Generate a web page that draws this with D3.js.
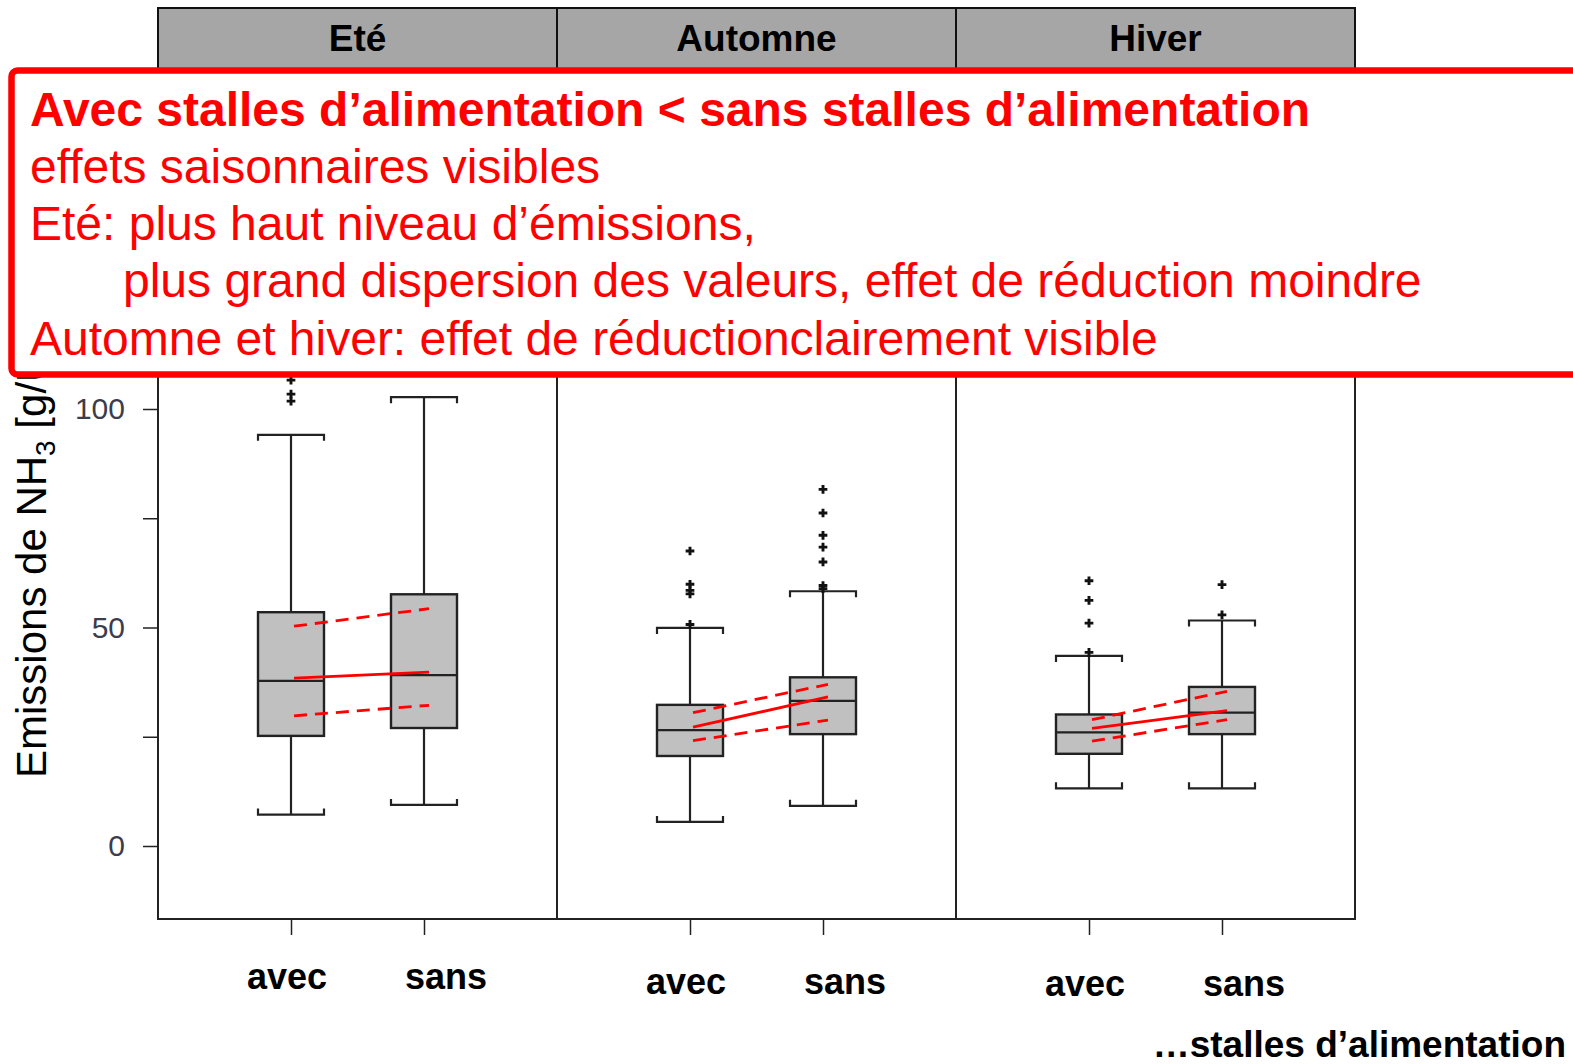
<!DOCTYPE html>
<html>
<head>
<meta charset="utf-8">
<script src="https://cdn.jsdelivr.net/npm/d3@7"></script>
<style>
  body { margin: 0; background: #fff; }
  svg { display: block; font-family: 'Liberation Sans', Arial, sans-serif; }
</style>
</head>
<body>
<script>
// Data
const seasons = ['Eté', 'Automne', 'Hiver'];
const groups = ['avec', 'sans'];

// box stats per group [avec, sans]: [lower whisker, q1, median, q3, upper whisker]
const eteStats = [[7.2, 25.2, 37.8, 53.5, 94.1], [9.4, 27.0, 39.1, 57.6, 102.7]];
const automneStats = [[5.5, 20.6, 26.5, 32.3, 49.9], [9.2, 25.6, 33.2, 38.6, 58.3]];
const hiverStats = [[13.2, 21.1, 26.0, 30.1, 43.5], [13.2, 25.6, 30.5, 36.4, 51.6]];

// outliers per group [avec, sans]
const eteOutliers = [[101.8, 103.4, 106.6], []];
const automneOutliers = [[50.7, 57.7, 58.5, 59.9, 67.5], [58.9, 59.6, 65.0, 68.4, 71.1, 76.2, 81.6]];
const hiverOutliers = [[44.3, 51.0, 56.2, 60.7], [52.9, 59.8]];

// model estimate (red) per season: [avec, sans]
const estimate = [[38.4, 39.8], [27.2, 34.1], [26.9, 31.0]];
const estimateLow = [[29.8, 32.2], [24.1, 28.8], [24.0, 28.9]];
const estimateHigh = [[50.3, 54.3], [30.5, 37.0], [28.9, 35.4]];

const yTicks = [0, 25, 50, 75, 100];
const yTickLabels = ['0', '', '50', '', '100'];

const notes = [
  'Avec stalles d’alimentation < sans stalles d’alimentation',
  'effets saisonnaires visibles',
  'Eté: plus haut niveau d’émissions,',
  'plus grand dispersion des valeurs, effet de réduction moindre',
  'Automne et hiver: effet de réductionclairement visible'
];

const stats = [eteStats, automneStats, hiverStats];
const outliers = [eteOutliers, automneOutliers, hiverOutliers];

// Layout
const width = 1573, height = 1064;
const plotLeft = 158, plotRight = 1355, plotTop = 70, plotBottom = 919;
const boxW = 66, capTick = 6;

const svg = d3.select('body').append('svg')
  .attr('width', width)
  .attr('height', height);

// Scales
const y = d3.scaleLinear().domain([0, 100]).range([846, 409]);
const panel = d3.scaleBand().domain(seasons).range([plotLeft, plotRight]);
const xIn = d3.scalePoint().domain(groups).range([0, panel.bandwidth()]).padding(1);

// Panels frame
svg.append('g')
  .selectAll('rect')
  .data(seasons)
  .enter()
  .append('rect')
  .attr('x', d => panel(d))
  .attr('y', plotTop)
  .attr('width', panel.bandwidth())
  .attr('height', plotBottom - plotTop)
  .attr('fill', 'none')
  .attr('stroke', '#222')
  .attr('stroke-width', 2);

// Strips
const strips = svg.append('g');
strips.selectAll('rect')
  .data(seasons)
  .enter()
  .append('rect')
  .attr('x', d => panel(d))
  .attr('y', 8)
  .attr('width', panel.bandwidth())
  .attr('height', plotTop - 8)
  .attr('fill', '#a6a6a6')
  .attr('stroke', '#111')
  .attr('stroke-width', 2);
strips.selectAll('text')
  .data(seasons)
  .enter()
  .append('text')
  .attr('x', d => panel(d) + panel.bandwidth() / 2)
  .attr('y', 51)
  .attr('text-anchor', 'middle')
  .attr('font-size', 37)
  .attr('font-weight', 'bold')
  .attr('fill', '#000')
  .text(d => d);

// Y axis
const yAxis = svg.append('g')
  .attr('transform', `translate(${plotLeft},0)`)
  .call(d3.axisLeft(y)
    .tickValues(yTicks)
    .tickSize(15)
    .tickPadding(18)
    .tickFormat((d, i) => yTickLabels[i]));
yAxis.select('.domain').remove();
yAxis.selectAll('line').attr('stroke', '#222').attr('stroke-width', 1.5);
yAxis.selectAll('text')
  .attr('font-size', 30)
  .attr('font-family', "'Liberation Sans', Arial, sans-serif")
  .attr('fill', '#3c3c4c');

// Y label
const yLabel = svg.append('text')
  .attr('transform', 'translate(46,778) rotate(-90)')
  .attr('font-size', 42)
  .attr('fill', '#000');
yLabel.append('tspan').text('Emissions de NH');
yLabel.append('tspan').attr('font-size', 28).attr('dy', 9).text('3');
yLabel.append('tspan').attr('dy', -9).text(' [g/UGB/j]');

// X axis per panel
seasons.forEach(s => {
  const ax = svg.append('g')
    .attr('transform', `translate(${panel(s)},${plotBottom})`)
    .call(d3.axisBottom(xIn).tickSize(16).tickFormat(''));
  ax.select('.domain').remove();
  ax.selectAll('line').attr('stroke', '#222').attr('stroke-width', 1.5);
});

// X labels
const labelShift = [-4, 22];
const labelBase = [989, 994, 996];
seasons.forEach((s, i) => {
  svg.append('g')
    .selectAll('text')
    .data(groups)
    .enter()
    .append('text')
    .attr('x', (g, j) => panel(s) + xIn(g) + labelShift[j])
    .attr('y', labelBase[i])
    .attr('text-anchor', 'middle')
    .attr('font-size', 36)
    .attr('font-weight', 'bold')
    .text(g => g);
});

svg.append('text')
  .attr('x', 1566)
  .attr('y', 1057)
  .attr('text-anchor', 'end')
  .attr('font-size', 37)
  .attr('font-weight', 'bold')
  .text('…stalles d’alimentation');

// Boxplots
seasons.forEach((s, i) => {
  const g = svg.append('g');
  groups.forEach((grp, j) => {
    const [lo, q1, med, q3, hi] = stats[i][j];
    const cx = panel(s) + xIn(grp);
    // whiskers
    g.append('line')
      .attr('x1', cx).attr('x2', cx)
      .attr('y1', y(hi)).attr('y2', y(q3))
      .attr('stroke', '#222').attr('stroke-width', 2.2);
    g.append('line')
      .attr('x1', cx).attr('x2', cx)
      .attr('y1', y(q1)).attr('y2', y(lo))
      .attr('stroke', '#222').attr('stroke-width', 2.2);
    // caps
    g.append('path')
      .attr('d', `M${cx - boxW / 2},${y(hi) + capTick}V${y(hi)}H${cx + boxW / 2}V${y(hi) + capTick}`)
      .attr('fill', 'none').attr('stroke', '#222').attr('stroke-width', 2.2);
    g.append('path')
      .attr('d', `M${cx - boxW / 2},${y(lo) - capTick}V${y(lo)}H${cx + boxW / 2}V${y(lo) - capTick}`)
      .attr('fill', 'none').attr('stroke', '#222').attr('stroke-width', 2.2);
    // box
    g.append('rect')
      .attr('x', cx - boxW / 2)
      .attr('y', y(q3))
      .attr('width', boxW)
      .attr('height', y(q1) - y(q3))
      .attr('fill', '#c0c0c0')
      .attr('stroke', '#222')
      .attr('stroke-width', 2.4);
    g.append('line')
      .attr('x1', cx - boxW / 2).attr('x2', cx + boxW / 2)
      .attr('y1', y(med)).attr('y2', y(med))
      .attr('stroke', '#222').attr('stroke-width', 2.2);
    // outliers
    g.selectAll(null)
      .data(outliers[i][j])
      .enter()
      .append('path')
      .attr('transform', d => `translate(${cx},${y(d)})`)
      .attr('d', d3.symbol().type(d3.symbolCross).size(42))
      .attr('fill', '#111');
  });

  // model estimates
  const xa = panel(s) + xIn('avec') + 3;
  const xs = panel(s) + xIn('sans') + 5;
  [[estimate, null], [estimateLow, '13,8'], [estimateHigh, '13,8']].forEach(([arr, dash]) => {
    g.append('line')
      .attr('x1', xa).attr('x2', xs)
      .attr('y1', y(arr[i][0])).attr('y2', y(arr[i][1]))
      .attr('stroke', '#ff0000')
      .attr('stroke-width', 2.8)
      .attr('stroke-dasharray', dash);
  });
});

// Annotation box
svg.append('rect')
  .attr('x', 11.5)
  .attr('y', 70.5)
  .attr('width', 1620)
  .attr('height', 304)
  .attr('rx', 6)
  .attr('fill', '#fff')
  .attr('stroke', '#ff0000')
  .attr('stroke-width', 6.5);

const noteBase = [126, 183, 240, 297, 355];
const noteX = [30, 30, 30, 123, 30];
svg.append('g')
  .selectAll('text')
  .data(notes)
  .enter()
  .append('text')
  .attr('x', (d, i) => noteX[i])
  .attr('y', (d, i) => noteBase[i])
  .attr('font-size', 48)
  .attr('font-weight', (d, i) => i === 0 ? 'bold' : 'normal')
  .attr('fill', '#ff0000')
  .text(d => d);
</script>
</body>
</html>
